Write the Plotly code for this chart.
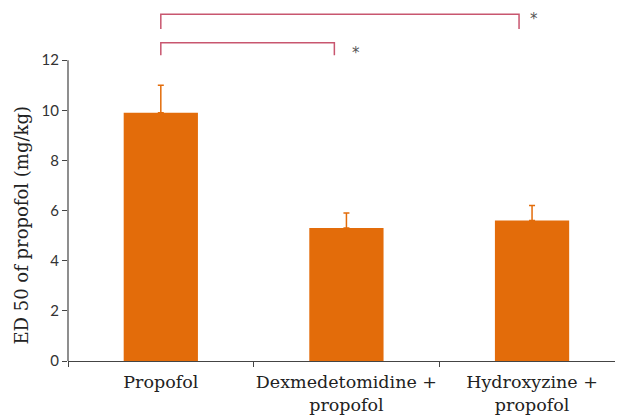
import plotly.graph_objects as go

categories = ["Propofol", "Dexmedetomidine +<br>propofol", "Hydroxyzine +<br>propofol"]
ed50 = [9.9, 5.3, 5.6]
err_up = [1.1, 0.6, 0.6]

# significance brackets: (x_left, x_right, y_top, y_leg_bottom, star_x, star_y)
brackets = [
    (0.0, 0.935, 12.69, 12.2, 1.05, 12.28),
    (0.0, 1.93, 13.83, 13.24, 2.01, 13.66),
]

bar_color = "#E36C0A"
bracket_color = "#C8566F"

fig = go.Figure()
fig.add_trace(go.Bar(
    x=categories, y=ed50, width=0.4, marker=dict(color=bar_color, line=dict(width=0)),
    error_y=dict(type="data", symmetric=False, array=err_up, arrayminus=[0, 0, 0],
                 color=bar_color, thickness=1.5, width=3),
    showlegend=False,
))

shapes = []
annotations = []
for xl, xr, yt, yb, sx, sy in brackets:
    shapes.append(dict(type="path", xref="x", yref="y",
                       path=f"M {xl} {yb} L {xl} {yt} L {xr} {yt} L {xr} {yb}",
                       line=dict(color=bracket_color, width=1.5)))
    annotations.append(dict(x=sx, y=sy, xref="x", yref="y", text="*", showarrow=False,
                            font=dict(family="DejaVu Sans", size=15, color="#555")))

# y axis title as annotation
annotations.append(dict(x=0, y=5.4, xref="paper", yref="y", xanchor="center", yanchor="middle",
                        xshift=-46, textangle=-90, showarrow=False,
                        text="ED 50 of propofol (mg/kg)",
                        font=dict(family="DejaVu Serif", size=18, color="#222")))

# y axis line from 0 to 12
shapes.append(dict(type="line", xref="paper", yref="y", x0=0, x1=0, y0=0, y1=12,
                   line=dict(color="#444", width=1.2)))

fig.update_layout(
    width=623, height=417,
    margin=dict(l=60, r=8, t=2, b=64, autoexpand=False),
    plot_bgcolor="white", paper_bgcolor="white",
    shapes=shapes, annotations=annotations,
    xaxis=dict(type="category", range=[-0.5, 2.49], showline=True, linecolor="#444", linewidth=1.2,
               ticks="outside", tickson="boundaries", ticklen=5, tickcolor="#444", automargin=False,
               tickangle=0, ticklabelstandoff=5,
               tickfont=dict(family="DejaVu Serif", size=17.5, color="#222"), showgrid=False),
    yaxis=dict(range=[0, 14], tickvals=[0, 2, 4, 6, 8, 10, 12], ticks="outside", ticklen=5,
               tickcolor="#444", showline=False, showgrid=False, zeroline=False, automargin=False,
               tickfont=dict(family="Lato", size=15, color="#333")),
)

fig.write_html("out.html")
